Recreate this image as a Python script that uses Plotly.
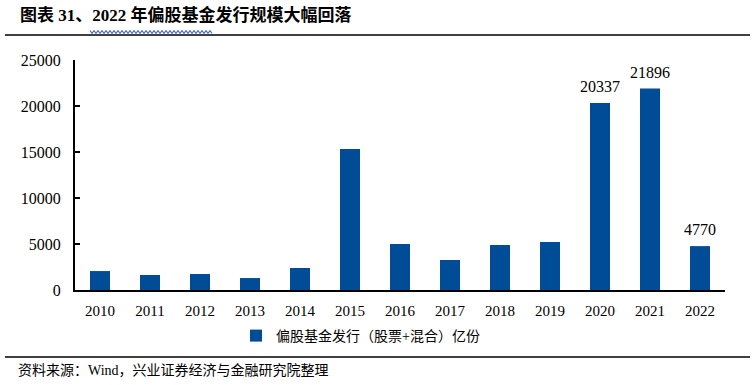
import plotly.graph_objects as go

years = ["2010", "2011", "2012", "2013", "2014", "2015", "2016",
         "2017", "2018", "2019", "2020", "2021", "2022"]
issuance = [2060, 1630, 1740, 1300, 2390, 15330, 5000,
            3260, 4890, 5220, 20337, 21896, 4770]
labelled_years = ["2020", "2021", "2022"]
y_ticks = [0, 5000, 10000, 15000, 20000, 25000]

series_name = "偏股基金发行（股票+混合）亿份"
title_text = "图表 31、2022 年偏股基金发行规模大幅回落"
source_text = "资料来源：Wind，兴业证券经济与金融研究院整理"

W, H = 756, 385
L, R, T, B = 75, 31, 60, 95
pw, ph = W - L - R, H - T - B

def px_x(x):
    return (x - L) / pw

def px_y(y):
    return (H - B - y) / ph

serif = "Liberation Serif, Noto Sans CJK SC, serif"
cjk = "Liberation Serif, Noto Sans CJK SC, sans-serif"
bar_color = "#004C97"

fig = go.Figure()
fig.add_trace(go.Bar(
    x=years, y=issuance, name=series_name,
    marker=dict(color=bar_color, line=dict(width=0)),
    showlegend=True,
))

annotations = []
for i, (yr, v) in enumerate(zip(years, issuance)):
    if yr in labelled_years:
        annotations.append(dict(
            x=i, y=v, xref="x", yref="y", text=str(v), showarrow=False,
            yanchor="bottom", yshift=6,
            font=dict(family=serif, size=16, color="#000000"),
        ))

annotations.append(dict(
    x=px_x(18), y=px_y(15), xref="paper", yref="paper", text="<b>" + title_text + "</b>",
    showarrow=False, xanchor="left", yanchor="middle",
    font=dict(family=cjk, size=17, color="#000000"),
))
annotations.append(dict(
    x=px_x(16), y=px_y(370), xref="paper", yref="paper", text=source_text,
    showarrow=False, xanchor="left", yanchor="middle",
    font=dict(family=cjk, size=14, color="#000000"),
))

# wavy (spell-check style) underline under part of the title
wx0, wx1, wy = 90, 213, 32
pts = []
x = wx0
k = 0
while x <= wx1:
    yy = wy + (1.3 if k % 2 else -1.3)
    pts.append((px_x(x), px_y(yy)))
    x += 2
    k += 1
wave_path = "M " + " L ".join(f"{a:.5f},{b:.5f}" for a, b in pts)

shapes = [
    dict(type="line", xref="paper", yref="paper", x0=px_x(5), x1=px_x(750),
         y0=px_y(35), y1=px_y(35), line=dict(color="#000000", width=1.5)),
    dict(type="line", xref="paper", yref="paper", x0=px_x(5), x1=px_x(750),
         y0=px_y(357), y1=px_y(357), line=dict(color="#000000", width=1.5)),
    dict(type="path", xref="paper", yref="paper", path=wave_path,
         line=dict(color="#4a6fd0", width=1.2)),
]

fig.update_layout(
    width=W, height=H,
    margin=dict(l=L, r=R, t=T, b=B),
    paper_bgcolor="white", plot_bgcolor="white",
    bargap=0.6,
    annotations=annotations,
    shapes=shapes,
    legend=dict(
        orientation="h", x=px_x(236), xanchor="left", y=px_y(336), yanchor="middle",
        font=dict(family=cjk, size=14, color="#000000"),
        itemwidth=30, bgcolor="rgba(0,0,0,0)",
    ),
    xaxis=dict(
        type="category", range=[-0.5, len(years) - 0.5],
        showline=True, linecolor="#000000", linewidth=2,
        ticks="", showgrid=False, zeroline=False,
        tickfont=dict(family=serif, size=15, color="#000000"),
        ticklabelstandoff=6,
    ),
    yaxis=dict(
        range=[0, 25000], tickvals=y_ticks, tickformat="d", showline=True, linecolor="#000000",
        linewidth=2, ticks="inside", ticklen=5, tickcolor="#000000", tickwidth=2,
        showgrid=False, zeroline=False,
        tickfont=dict(family=serif, size=16, color="#000000"),
        ticklabelstandoff=9,
    ),
)

fig.write_html("out.html", config={"displayModeBar": False},
               post_script="document.body.style.margin='0';document.body.style.padding='0';")
